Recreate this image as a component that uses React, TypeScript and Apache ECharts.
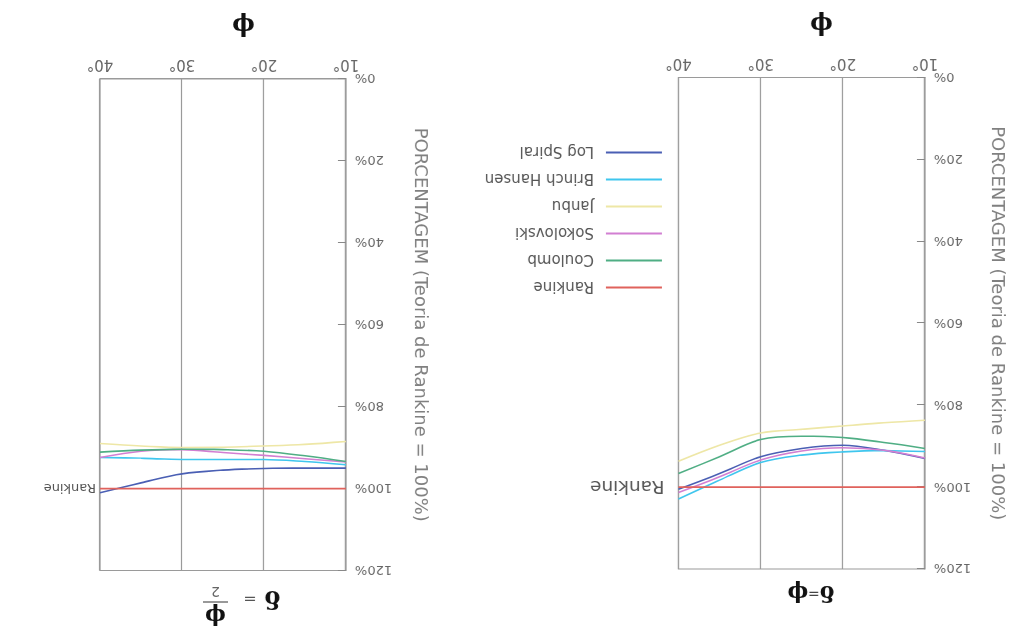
import React, { useEffect, useRef } from "react";
import * as echarts from "echarts";

const phi = [10, 15, 20, 25, 30, 35, 40];
const seriesNames = ["Rankine", "Coulomb", "Sokolovski", "Janbu", "Brinch Hansen", "Log Spiral"];
const seriesColors = ["#e0625c", "#4fae84", "#d27fd2", "#eee7a6", "#3fc6ee", "#4a5fb4"];

// delta = phi
const rankineA = [100, 100, 100, 100, 100, 100, 100];
const coulombA = [90.6, 89.1, 87.9, 87.6, 88.4, 92.6, 96.7];
const sokolovskiA = [92.9, 91.0, 90.4, 91.2, 93.4, 97.5, 101.3];
const janbuA = [83.7, 84.3, 85.1, 85.9, 86.8, 89.8, 93.7];
const brinchA = [91.3, 91.1, 91.4, 92.2, 94.0, 98.3, 102.9];
const logSpiralA = [93.0, 91.0, 89.8, 90.6, 92.6, 96.7, 100.5];

// delta = phi / 2
const rankineB = [100, 100, 100, 100, 100, 100, 100];
const coulombB = [93.4, 92.0, 90.9, 90.5, 90.4, 90.6, 91.1];
const sokolovskiB = [93.5, 92.7, 91.9, 91.2, 90.5, 90.9, 92.4];
const janbuB = [88.5, 89.2, 89.6, 89.9, 90.0, 89.6, 89.0];
const brinchB = [94.2, 93.4, 92.9, 92.9, 92.9, 92.6, 92.4];
const logSpiralB = [95.0, 95.0, 95.1, 95.5, 96.4, 98.6, 101.0];

const panelA = [rankineA, coulombA, sokolovskiA, janbuA, brinchA, logSpiralA];
const panelB = [rankineB, coulombB, sokolovskiB, janbuB, brinchB, logSpiralB];

const yName = "PORCENTAGEM (Teoria de Rankine = 100%)";
const sans = "DejaVu Sans";
const serif = "DejaVu Serif";

export default function App() {
  const ref = useRef<HTMLDivElement>(null);
  useEffect(() => {
    if (!ref.current) return;
    const chart = echarts.init(ref.current, null, { renderer: "svg" });

    const mkX = (gridIndex: number) => ({
      type: "value",
      gridIndex,
      min: 10,
      max: 40,
      interval: 10,
      axisLine: { show: true, lineStyle: { color: "#9a9a9a", width: 1.2 } },
      axisTick: { show: false },
      axisLabel: { formatter: "{value}°", color: "#666", fontFamily: sans, fontSize: 15, margin: 6 },
      splitLine: { show: true, lineStyle: { color: "#9a9a9a", width: 1.2 } },
    });
    const mkY = (gridIndex: number, gap: number) => ({
      type: "value",
      gridIndex,
      min: 0,
      max: 120,
      interval: 20,
      name: yName,
      nameLocation: "middle",
      nameGap: gap,
      nameRotate: 90,
      nameTextStyle: { color: "#808080", fontFamily: sans, fontSize: 18 },
      axisLine: { show: true, lineStyle: { color: "#9a9a9a", width: 1.2 } },
      axisTick: { show: true, inside: true, length: 8, lineStyle: { color: "#888" } },
      axisLabel: { formatter: "{value}%", color: "#666", fontFamily: sans, fontSize: 13, margin: 9 },
      splitLine: { show: false },
    });

    const mkSeries = (data: number[][], idx: number, endDist: number, endSize: number) =>
      data.map((vals, i) => ({
        name: seriesNames[i],
        type: "line",
        xAxisIndex: idx,
        yAxisIndex: idx,
        data: phi.map((p, j) => [p, vals[j]]),
        smooth: 0.35,
        symbol: "none",
        lineStyle: { color: seriesColors[i], width: 1.6 },
        itemStyle: { color: seriesColors[i] },
        z: 10 - i,
        endLabel:
          i === 0
            ? { show: true, formatter: "Rankine", distance: endDist, color: "#555", fontFamily: sans, fontSize: endSize }
            : { show: false },
      }));

    chart.setOption({
      animation: false,
      backgroundColor: "#ffffff",
      grid: [
        { left: 86, top: 64, width: 246.5, height: 491.5, show: true, borderColor: "#9a9a9a", borderWidth: 1.2 },
        { left: 665, top: 62.5, width: 246, height: 491.5, show: true, borderColor: "#9a9a9a", borderWidth: 1.2 },
      ],
      xAxis: [mkX(0), mkX(1)],
      yAxis: [mkY(0, 65), mkY(1, 67)],
      legend: {
        orient: "vertical",
        left: 343,
        top: 333,
        itemWidth: 56,
        itemHeight: 16,
        itemGap: 12,
        itemStyle: { opacity: 0 },
        textStyle: { color: "#555", fontFamily: sans, fontSize: 15, padding: [0, 0, 0, 7] },
        data: seriesNames,
      },
      series: [...mkSeries(panelA, 0, 14, 18.5), ...mkSeries(panelB, 1, 4, 13)],
      graphic: [
        {
          type: "text",
          x: 200,
          y: 39,
          style: {
            text: "{d|δ}{e|=}{d|ϕ}",
            textAlign: "center",
            textVerticalAlign: "middle",
            rich: {
              d: { fontFamily: serif, fontWeight: "bold", fontSize: 22, fill: "#111" },
              e: { fontFamily: sans, fontSize: 14, fill: "#444" },
            },
          },
        },
        {
          type: "text",
          x: 738.5,
          y: 33,
          style: { text: "δ", fontFamily: serif, fontWeight: "bold", fontSize: 24, fill: "#111", textAlign: "center", textVerticalAlign: "middle" },
        },
        {
          type: "text",
          x: 761,
          y: 33,
          style: { text: "=", fontFamily: sans, fontSize: 16, fill: "#555", textAlign: "center", textVerticalAlign: "middle" },
        },
        {
          type: "text",
          x: 795.5,
          y: 16,
          style: { text: "ϕ", fontFamily: serif, fontWeight: "bold", fontSize: 22, fill: "#111", textAlign: "center", textVerticalAlign: "middle" },
        },
        { type: "line", shape: { x1: 783, y1: 31, x2: 808, y2: 31 }, style: { stroke: "#555", lineWidth: 1.2 } },
        {
          type: "text",
          x: 795.5,
          y: 41,
          style: { text: "2", fontFamily: sans, fontSize: 14, fill: "#666", textAlign: "center", textVerticalAlign: "middle" },
        },
        {
          type: "text",
          x: 189.5,
          y: 607.5,
          style: { text: "ϕ", fontFamily: serif, fontWeight: "bold", fontSize: 24, fill: "#111", textAlign: "center", textVerticalAlign: "middle" },
        },
        {
          type: "text",
          x: 767.5,
          y: 606.5,
          style: { text: "ϕ", fontFamily: serif, fontWeight: "bold", fontSize: 24, fill: "#111", textAlign: "center", textVerticalAlign: "middle" },
        },
      ],
    });
    return () => chart.dispose();
  }, []);

  return (
    <div
      ref={ref}
      style={{
        position: "fixed",
        left: 0,
        top: 0,
        width: 1011,
        height: 633,
        transform: "rotate(180deg)",
        background: "#fff",
      }}
    />
  );
}
